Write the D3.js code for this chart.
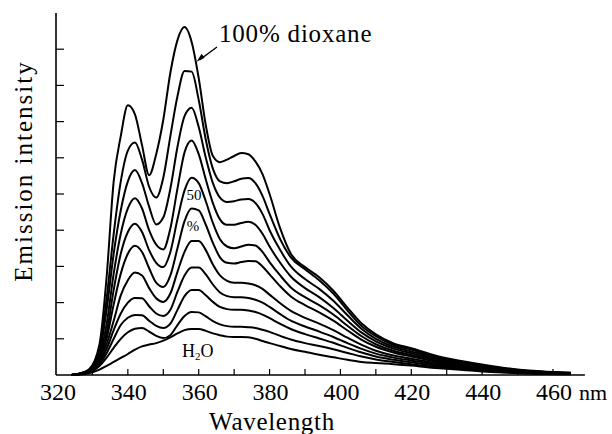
<!DOCTYPE html>
<html>
<head>
<meta charset="utf-8">
<script src="https://cdn.jsdelivr.net/npm/d3@7"></script>
<style>
  body { margin: 0; background: #fff; }
  text { font-family: "Liberation Serif", "DejaVu Serif", serif; fill: #000; }
</style>
</head>
<body>
<div id="plot"></div>
<script>
// wavelengths (nm) shared by every spectrum
let wavelengths = [324, 326, 329, 332, 334, 336, 338, 340, 342, 344, 346, 348, 350, 352, 354, 356, 358, 360, 362, 364, 366, 368, 370, 372, 374, 376, 378, 380, 383, 386, 390, 394, 398, 402, 406, 410, 415, 420, 425, 430, 440, 450, 465];

// emission intensity, 100% dioxane down to pure water
let dioxane100 = [0, 0.03, 0.15, 0.85, 2.7, 5.35, 6.6, 7.45, 7.2, 6.35, 5.52, 6.1, 7.05, 8.35, 9.25, 9.61, 9.2, 8.2, 6.9, 6.05, 5.88, 5.95, 6.05, 6.13, 6.1, 5.9, 5.55, 5.0, 4.05, 3.35, 2.98, 2.7, 2.33, 1.86, 1.42, 1.12, 0.87, 0.74, 0.59, 0.46, 0.29, 0.15, 0.06];
let dioxane90 = [0, 0.03, 0.14, 0.72, 2.1, 3.9, 5.35, 6.2, 6.42, 5.95, 5.2, 4.9, 5.45, 6.6, 7.7, 8.4, 8.38, 7.6, 6.5, 5.7, 5.35, 5.3, 5.35, 5.42, 5.44, 5.3, 4.95, 4.45, 3.75, 3.25, 2.92, 2.62, 2.25, 1.78, 1.35, 1.07, 0.83, 0.7, 0.56, 0.44, 0.27, 0.14, 0.06];
let dioxane80 = [0, 0.03, 0.13, 0.62, 1.8, 3.35, 4.55, 5.35, 5.66, 5.3, 4.65, 4.16, 4.35, 5.15, 6.3, 7.15, 7.38, 6.85, 6.0, 5.3, 4.9, 4.78, 4.8, 4.85, 4.86, 4.75, 4.45, 4.0, 3.45, 3.0, 2.65, 2.38, 2.05, 1.65, 1.27, 1.0, 0.78, 0.65, 0.52, 0.41, 0.25, 0.13, 0.05];
let dioxane70 = [0, 0.03, 0.12, 0.55, 1.4, 2.8, 3.9, 4.6, 4.88, 4.6, 4.0, 3.6, 3.47, 4.05, 5.15, 6.15, 6.48, 6.1, 5.4, 4.75, 4.3, 4.15, 4.15, 4.2, 4.23, 4.15, 3.9, 3.55, 3.1, 2.72, 2.4, 2.15, 1.85, 1.5, 1.17, 0.93, 0.73, 0.6, 0.48, 0.38, 0.23, 0.12, 0.05];
let dioxane60 = [0, 0.02, 0.11, 0.5, 1.15, 2.35, 3.35, 3.95, 4.18, 3.95, 3.45, 3.1, 2.98, 3.4, 4.3, 5.1, 5.45, 5.3, 4.8, 4.2, 3.75, 3.55, 3.5, 3.55, 3.6, 3.58, 3.4, 3.12, 2.75, 2.42, 2.15, 1.93, 1.67, 1.36, 1.07, 0.85, 0.67, 0.55, 0.44, 0.35, 0.21, 0.11, 0.05];
let dioxane50 = [0, 0.02, 0.1, 0.45, 1.0, 1.95, 2.8, 3.35, 3.57, 3.4, 2.95, 2.55, 2.43, 2.75, 3.5, 4.25, 4.6, 4.55, 4.15, 3.65, 3.25, 3.1, 3.08, 3.12, 3.15, 3.14, 3.0, 2.78, 2.45, 2.17, 1.93, 1.73, 1.5, 1.23, 0.97, 0.78, 0.62, 0.51, 0.41, 0.32, 0.2, 0.1, 0.04];
let dioxane40 = [0, 0.02, 0.09, 0.4, 0.85, 1.5, 2.2, 2.62, 2.83, 2.75, 2.4, 2.12, 2.02, 2.25, 2.85, 3.4, 3.7, 3.7, 3.45, 3.05, 2.75, 2.6, 2.55, 2.55, 2.53, 2.48, 2.38, 2.22, 1.98, 1.77, 1.58, 1.42, 1.24, 1.03, 0.83, 0.67, 0.54, 0.45, 0.36, 0.29, 0.18, 0.09, 0.04];
let dioxane30 = [0, 0.02, 0.08, 0.35, 0.72, 1.24, 1.7, 2.0, 2.13, 2.12, 1.9, 1.7, 1.63, 1.8, 2.3, 2.75, 2.97, 2.97, 2.78, 2.5, 2.28, 2.18, 2.15, 2.15, 2.13, 2.08, 2.0, 1.88, 1.68, 1.5, 1.34, 1.2, 1.05, 0.88, 0.72, 0.59, 0.48, 0.4, 0.32, 0.26, 0.16, 0.08, 0.04];
let dioxane20 = [0, 0.02, 0.07, 0.3, 0.6, 1.0, 1.38, 1.58, 1.66, 1.65, 1.5, 1.36, 1.3, 1.42, 1.8, 2.18, 2.35, 2.35, 2.2, 2.02, 1.88, 1.82, 1.8, 1.8, 1.78, 1.74, 1.67, 1.57, 1.41, 1.27, 1.13, 1.01, 0.89, 0.75, 0.62, 0.51, 0.42, 0.35, 0.28, 0.23, 0.14, 0.07, 0.03];
let dioxane10 = [0, 0.02, 0.07, 0.25, 0.48, 0.75, 1.0, 1.18, 1.28, 1.3, 1.2, 1.08, 1.02, 1.1, 1.38, 1.63, 1.74, 1.73, 1.62, 1.49, 1.4, 1.35, 1.33, 1.33, 1.32, 1.3, 1.25, 1.19, 1.08, 0.98, 0.88, 0.8, 0.71, 0.61, 0.51, 0.43, 0.36, 0.3, 0.24, 0.2, 0.12, 0.06, 0.03];
let water = [0, 0.01, 0.05, 0.15, 0.25, 0.36, 0.47, 0.58, 0.7, 0.79, 0.84, 0.88, 0.95, 1.04, 1.15, 1.24, 1.27, 1.27, 1.22, 1.15, 1.1, 1.06, 1.05, 1.05, 1.04, 1.0, 0.94, 0.88, 0.8, 0.72, 0.64, 0.56, 0.49, 0.42, 0.36, 0.33, 0.3, 0.26, 0.21, 0.17, 0.1, 0.05, 0.02];

let spectra = [dioxane100, dioxane90, dioxane80, dioxane70, dioxane60, dioxane50, dioxane40, dioxane30, dioxane20, dioxane10, water];

let xLabels = [320, 340, 360, 380, 400, 420, 440, 460];
let xMinor = [330, 340, 350, 360, 370, 380, 390, 400, 410, 420, 430, 440, 450, 460];
let yTicks = [1, 2, 3, 4, 5, 6, 7, 8, 9];

let svgWidth = 612;
let svgHeight = 434;

let x = d3.scaleLinear().domain([320, 460]).range([57, 553]);
let y = d3.scaleLinear().domain([0, 10]).range([375, 13]);

let svg = d3.select('#plot')
            .append('svg')
                .attr('width', svgWidth)
                .attr('height', svgHeight);

// axes
svg.append('line')
    .attr('x1', x(320) - 1).attr('x2', x(469))
    .attr('y1', y(0)).attr('y2', y(0))
    .attr('stroke', '#000').attr('stroke-width', 1.6);

svg.append('line')
    .attr('x1', x(320) - 1).attr('x2', x(320) - 1)
    .attr('y1', y(0)).attr('y2', y(10))
    .attr('stroke', '#000').attr('stroke-width', 1.6);

svg.selectAll('.xtick')
    .data(xMinor)
    .enter()
        .append('line')
        .attr('x1', d => x(d)).attr('x2', d => x(d))
        .attr('y1', y(0)).attr('y2', y(0) - 6)
        .attr('stroke', '#000').attr('stroke-width', 1.2);

svg.selectAll('.ytick')
    .data(yTicks)
    .enter()
        .append('line')
        .attr('x1', x(320) - 1).attr('x2', x(320) + 7)
        .attr('y1', d => y(d)).attr('y2', d => y(d))
        .attr('stroke', '#000').attr('stroke-width', 1.2);

svg.selectAll('.xlabel')
    .data(xLabels)
    .enter()
        .append('text')
        .attr('x', d => x(d) + 1)
        .attr('y', 400)
        .attr('text-anchor', 'middle')
        .style('font-size', '24px')
        .text(d => d);

svg.append('text')
    .attr('x', 579).attr('y', 400)
    .style('font-size', '22px')
    .text('nm');

svg.append('text')
    .attr('x', 272).attr('y', 430)
    .attr('text-anchor', 'middle')
    .style('font-size', '25px')
    .style('letter-spacing', '0.7px')
    .text('Wavelength');

svg.append('text')
    .attr('transform', 'translate(32,171) rotate(-90)')
    .attr('text-anchor', 'middle')
    .style('font-size', '25px')
    .style('letter-spacing', '2px')
    .text('Emission intensity');

// spectra
let line = d3.line()
    .x((d, i) => x(wavelengths[i]))
    .y(d => y(d))
    .curve(d3.curveMonotoneX);

svg.selectAll('.spectrum')
    .data(spectra)
    .enter()
        .append('path')
        .attr('d', d => line(d))
        .attr('fill', 'none')
        .attr('stroke', '#000')
        .attr('stroke-width', 2);

// annotations
svg.append('text')
    .attr('x', 219).attr('y', 42)
    .style('font-size', '25px')
    .style('letter-spacing', '0.8px')
    .text('100% dioxane');

let tipX = x(359.4), tipY = y(8.65);
svg.append('line')
    .attr('x1', 217).attr('y1', 47)
    .attr('x2', tipX + 3).attr('y2', tipY - 2)
    .attr('stroke', '#000').attr('stroke-width', 1.3);
svg.append('path')
    .attr('d', `M${tipX},${tipY} l5,-8 l3,4 z`)
    .attr('fill', '#000');

svg.append('text')
    .attr('x', 194).attr('y', 200)
    .attr('text-anchor', 'middle')
    .style('font-size', '15px')
    .text('50');
svg.append('text')
    .attr('x', 193).attr('y', 231)
    .attr('text-anchor', 'middle')
    .style('font-size', '15px')
    .text('%');

let h2o = svg.append('text')
    .attr('x', 182).attr('y', 357)
    .style('font-size', '18px');
h2o.append('tspan').text('H');
h2o.append('tspan').attr('dy', 3).style('font-size', '11px').text('2');
h2o.append('tspan').attr('dy', -3).text('O');
</script>
</body>
</html>
